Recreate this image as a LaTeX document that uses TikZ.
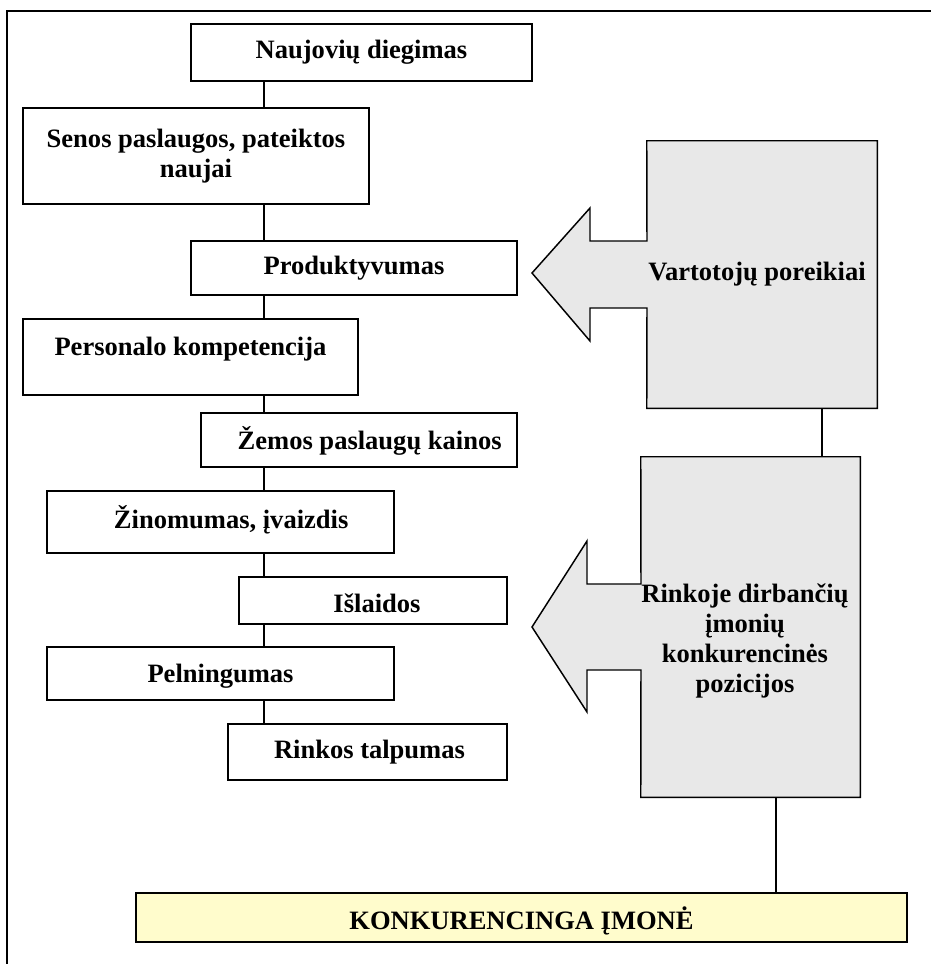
\documentclass[tikz,border=0pt]{standalone}
\usepackage{fontspec}
\setmainfont{Liberation Serif}
\definecolor{panelgray}{RGB}{232,232,232}
\definecolor{firmyellow}{RGB}{255,252,204}
\begin{document}
\begin{tikzpicture}[x=0.75pt,y=-0.75pt,
  every node/.style={font=\fontsize{19.9pt}{22.5pt}\selectfont\bfseries, inner sep=0pt},
  sz/.style 2 args={minimum width=#1*0.75pt, minimum height=#2*0.75pt},
  frame/.style={draw, line width=1.5pt, fill=white, align=center},
  one/.style={text height=13.7pt, text depth=4.4pt},
  link/.style={line width=0.9pt},
  panel/.style={draw, line width=1.1pt, fill=panelgray, line join=miter},
]
\useasboundingbox (0,0) rectangle (931,964);

% outer frame (top and left edges)
\draw[line width=1.4pt] (7,964) -- (7,11) -- (931,11);

% chain of factors
\node[frame, one, sz={341}{57}] (n1) at (361.5,52.5) {Naujovių diegimas};
\node[frame, sz={346}{96}] (n2) at (196,156) {Senos paslaugos, pateiktos\\naujai};
\node[frame, one, sz={326}{54}] (n3) at (354,268) {Produktyvumas};
\node[frame, one, text depth=16.7pt, sz={335}{76}] (n4) at (190.5,357) {Personalo kompetencija};
\node[frame, one, text height=17.9pt, sz={316}{54}] (n5) at (359,440) {\hspace*{16pt}Žemos paslaugų kainos};
\node[frame, one, sz={347}{62}] (n6) at (220.5,522) {\hspace*{16pt}Žinomumas, įvaizdis};
\node[frame, one, text height=22.4pt, sz={268}{47}] (n7) at (373,600.5) {\hspace*{6pt}Išlaidos};
\node[frame, one, text height=17.9pt, sz={347}{53}] (n8) at (220.5,673.5) {Pelningumas};
\node[frame, one, sz={279}{56}] (n9) at (367.5,752) {\hspace*{3pt}Rinkos talpumas};

\coordinate (spine) at (264,0);
\foreach \a/\b in {n1/n2,n2/n3,n3/n4,n4/n5,n5/n6,n6/n7,n7/n8,n8/n9}
  \draw[link] (\a.south -| spine) -- (\b.north -| spine);

% influencing factors: boxes with block arrows
\node[sz={230}{267}] (vart) at (762,274.5) {};
\draw[panel] (vart.north west) -- (vart.north east) -- (vart.south east) -- (vart.south west)
  -- (647,308) -- (590,308) -- (590,341) -- (532,273) -- (590,208) -- (590,241) -- (647,241) -- cycle;
\node[one] (vartxt) at (757,273.8) {Vartotojų poreikiai};

\node[sz={219}{340}] (rink) at (750.5,627) {};
\draw[panel] (rink.north west) -- (rink.north east) -- (rink.south east) -- (rink.south west)
  -- (641,670) -- (587,670) -- (587,712) -- (532,627) -- (587,541) -- (587,584) -- (641,584) -- cycle;
\node[align=center, font=\fontsize{19.9pt}{22.3pt}\selectfont\bfseries] (rinktxt) at (745,641)
  {Rinkoje dirbančių\\įmonių\\konkurencinės\\pozicijos};

% result
\node[frame, one, text height=23pt, fill=firmyellow, sz={771}{49}] (firm) at (521.5,917.5) {KONKURENCINGA ĮMONĖ};

\coordinate (c1) at (822,0);
\coordinate (c2) at (776,0);
\draw[link] (vart.south -| c1) -- (rink.north -| c1);
\draw[link] (rink.south -| c2) -- (firm.north -| c2);
\end{tikzpicture}
\end{document}
